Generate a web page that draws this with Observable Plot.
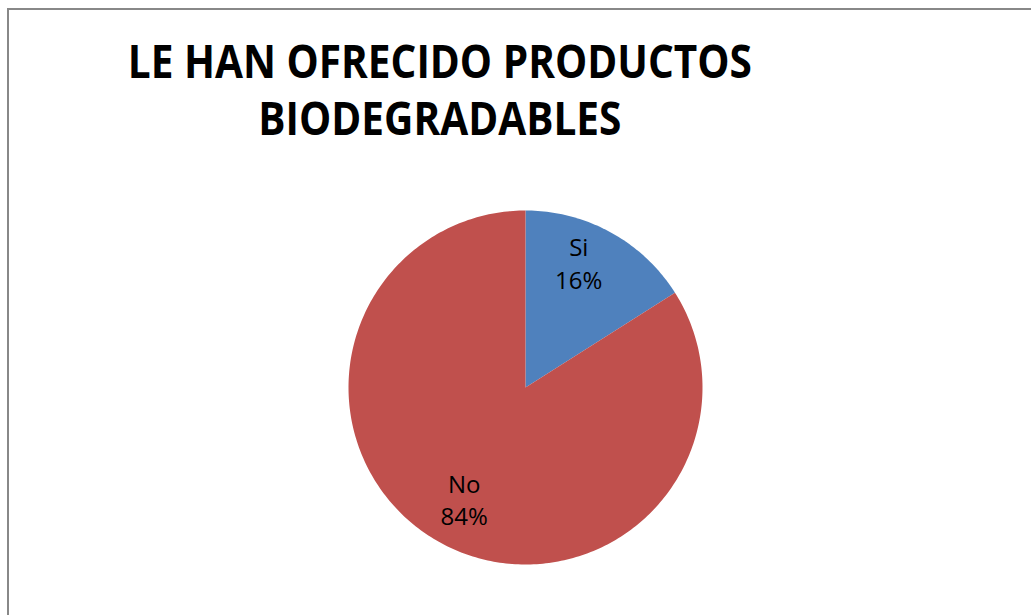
<!DOCTYPE html>
<html>
<head>
<meta charset="utf-8">
<script src="https://cdn.jsdelivr.net/npm/d3@7"></script>
<script src="https://cdn.jsdelivr.net/npm/@observablehq/plot@0.6"></script>
<style>
  html, body { margin: 0; padding: 0; background: #fff; }
  #wrap { position: relative; width: 1031px; height: 615px; overflow: hidden; background: #fff; }
  #frame { position: absolute; left: 7px; top: 8px; width: 2000px; height: 2000px;
           border-left: 2px solid #888; border-top: 2px solid #888; box-sizing: border-box; }
  #chart { position: absolute; left: 0; top: 0; }
  .title { position: absolute; left: 0; width: 880px; text-align: center; white-space: nowrap;
           font-family: "Open Sans", sans-serif; font-weight: 700; font-size: 46px; line-height: 1; color: #000; }
  .title span { display: inline-block; transform-origin: center; }
</style>
</head>
<body>
<div id="wrap">
  <div id="frame"></div>
  <div id="chart"></div>
  <div class="title" id="t1" style="top:37px"><span>LE HAN OFRECIDO PRODUCTOS</span></div>
  <div class="title" id="t2" style="top:94px"><span>BIODEGRADABLES</span></div>
</div>
<script>
// Data
const categories = ["Si", "No"];
const values = [16, 84];
const labels = ["16%", "84%"];
const colors = ["#4F81BD", "#C0504D"];

// Pie geometry (angles from the top, clockwise)
const total = d3.sum(values);
let acc = 0;
const slices = categories.map((c, i) => {
  const a0 = acc / total * 2 * Math.PI;
  acc += values[i];
  const a1 = acc / total * 2 * Math.PI;
  return {cat: c, a0, a1, value: values[i], label: labels[i]};
});

const pts = [];
for (const s of slices) {
  pts.push({cat: s.cat, x: 0, y: 0});
  const n = Math.max(2, Math.ceil((s.a1 - s.a0) / (Math.PI / 180)));
  for (let k = 0; k <= n; k++) {
    const a = s.a0 + (s.a1 - s.a0) * k / n;
    pts.push({cat: s.cat, x: Math.sin(a), y: Math.cos(a)});
  }
}

const lr = 0.73;
const labelData = slices.map(s => {
  const m = (s.a0 + s.a1) / 2;
  return {cat: s.cat, text: s.cat + "\n" + s.label, x: lr * Math.sin(m), y: lr * Math.cos(m)};
});

const W = 1031, H = 615, cx = 525, cy = 387, R = 177;

const mkText = (cat, dx, dy) => Plot.text(labelData.filter(d => d.cat === cat), {
  x: "x", y: "y", text: "text", fontSize: 24, lineHeight: 1.35,
  fontFamily: "Open Sans", fill: "#000", textAnchor: "middle", dx, dy
});

const plot = Plot.plot({
  width: W, height: H,
  margin: 0,
  x: {domain: [-cx / R, (W - cx) / R], axis: null},
  y: {domain: [-(H - cy) / R, cy / R], axis: null},
  color: {domain: categories, range: colors},
  style: {background: "transparent", overflow: "visible"},
  marks: [
    Plot.line(pts, {x: "x", y: "y", z: "cat", fill: "cat", stroke: "none", curve: "linear-closed"}),
    mkText("Si", -9, -12),
    mkText("No", 1, -2)
  ]
});
document.getElementById("chart").appendChild(plot);

// Fit the title to the reference width
document.fonts.ready.then(() => {
  const s1 = document.querySelector("#t1 span");
  const s2 = document.querySelector("#t2 span");
  const w = s1.getBoundingClientRect().width;
  const k = 624 / w;
  s1.style.transform = `scaleX(${k})`;
  s2.style.transform = `scaleX(${k})`;
});
</script>
</body>
</html>
